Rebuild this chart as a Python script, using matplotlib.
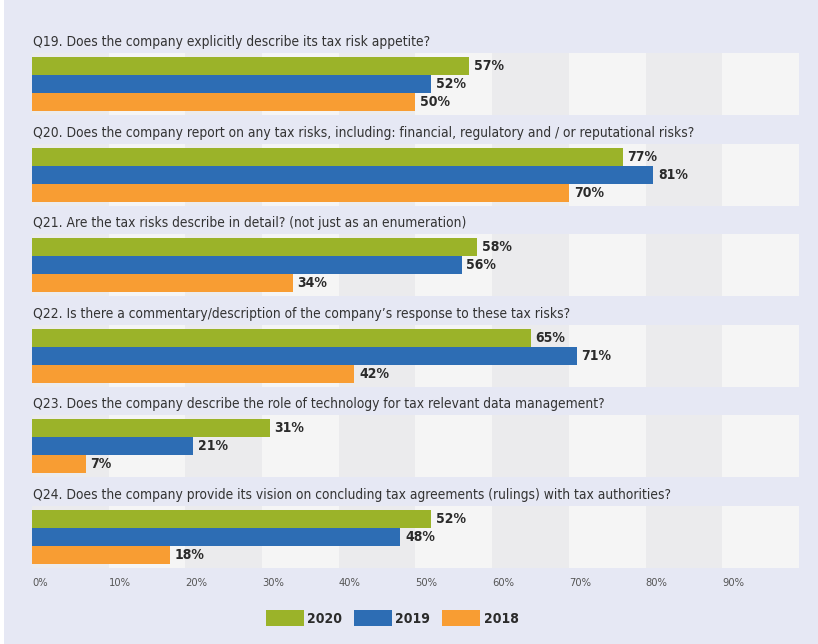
import matplotlib
matplotlib.use('Agg')
import matplotlib.pyplot as plt
from matplotlib.patches import Rectangle, Patch

questions = [
    'Q19. Does the company explicitly describe its tax risk appetite?',
    'Q20. Does the company report on any tax risks, including: financial, regulatory and / or reputational risks?',
    'Q21. Are the tax risks describe in detail? (not just as an enumeration)',
    'Q22. Is there a commentary/description of the company\u2019s response to these tax risks?',
    'Q23. Does the company describe the role of technology for tax relevant data management?',
    'Q24. Does the company provide its vision on concluding tax agreements (rulings) with tax authorities?',
]
years = ['2020', '2019', '2018']
vals_2020 = [57, 77, 58, 65, 31, 52]
vals_2019 = [52, 81, 56, 71, 21, 48]
vals_2018 = [50, 70, 34, 42, 7, 18]
tick_vals = [0, 10, 20, 30, 40, 50, 60, 70, 80, 90]

series = [vals_2020, vals_2019, vals_2018]
colors = ['#9bb329', '#2d6db4', '#f89d33']

# condensed DejaVu is the closest thing to the narrow face of the original
plt.rcParams['font.family'] = ['DejaVu Sans']
plt.rcParams['font.stretch'] = 'condensed'

BG = '#e6e8f4'
W, H = 818, 644
fig = plt.figure(figsize=(W / 100, H / 100), dpi=100, facecolor='white')
fig.patches.append(Rectangle((4 / W, 0), 1, 1, transform=fig.transFigure,
                             facecolor=BG, edgecolor='none', zorder=-10))

# axes spans 0..100% horizontally, 18px per bar unit vertically
top_px, bot_px = 30, 570
ax = fig.add_axes([32 / W, 1 - bot_px / H, 767 / W, (bot_px - top_px) / H])
ax.set_facecolor('none')
ax.set_xlim(0, 100)
ax.set_ylim((bot_px - top_px) / 18, 0)
for s in ax.spines.values():
    s.set_visible(False)

gap = 5.03
pad = 0.22
for i, q in enumerate(questions):
    y0 = 2.0 + i * gap
    # striped band behind the bars
    for k in range(10):
        ax.add_patch(Rectangle((k * 10, y0 - 0.5 - pad), 10, 3 + 2 * pad,
                               facecolor='#ebebed' if k % 2 == 0 else '#f5f5f5',
                               edgecolor='none', zorder=0))
    ax.text(0.1, y0 - 1.33, q, fontsize=9.9, color='#333333', va='center', ha='left')
    for j, (vals, c) in enumerate(zip(series, colors)):
        ax.barh(y0 + j, vals[i], height=1.0, color=c, zorder=2)
        ax.annotate(f'{vals[i]}%', (vals[i], y0 + j), xytext=(3.5, 0),
                    textcoords='offset points', va='center', ha='left',
                    fontsize=10, fontweight='bold', color='#2b2b2b')

ax.set_xticks(tick_vals)
ax.set_xticklabels([f'{v}%' for v in tick_vals], ha='left')
ax.tick_params(axis='x', length=0, pad=6, labelsize=8, labelcolor='#555555')
ax.set_yticks([])

handles = [Patch(facecolor=c, edgecolor='none') for c in colors]
leg = fig.legend(handles, years, loc='center', bbox_to_anchor=(392 / W, 1 - 618 / H),
                 ncol=3, frameon=False, handlelength=2.73, handleheight=1.3,
                 columnspacing=0.86, handletextpad=0.25,
                 prop={'weight': 'bold', 'size': 10, 'stretch': 'condensed'})
for t in leg.get_texts():
    t.set_color('#2b2b2b')

fig.savefig('out.png', dpi=100, facecolor=fig.get_facecolor())
